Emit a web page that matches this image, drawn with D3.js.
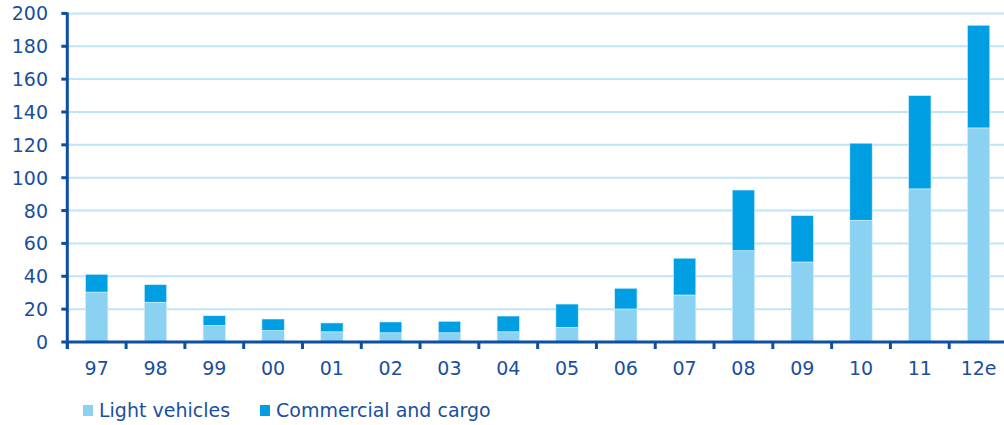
<!DOCTYPE html>
<html>
<head>
<meta charset="utf-8">
<script src="https://cdn.jsdelivr.net/npm/d3@7"></script>
<style>
  html, body { margin: 0; padding: 0; background: #fff; }
  svg { display: block; }
  text { font-family: "DejaVu Sans", Verdana, sans-serif; fill: #1a4f9e; }
</style>
</head>
<body>
<svg id="chart" width="1004" height="425"></svg>
<script>
const categories = ["97","98","99","00","01","02","03","04","05","06","07","08","09","10","11","12e"];
const lightVehicles = [30.4, 24.2, 10.1, 7.0, 6.2, 5.6, 5.6, 6.2, 8.9, 20.1, 28.6, 55.6, 48.7, 74.1, 93.2, 130.3];
const commercialCargo = [10.8, 10.7, 5.9, 7.0, 5.4, 6.6, 7.0, 9.6, 14.2, 12.6, 22.4, 36.9, 28.2, 46.9, 56.8, 62.5];
const yTicks = [0, 20, 40, 60, 80, 100, 120, 140, 160, 180, 200];
const seriesNames = ["Light vehicles", "Commercial and cargo"];
const colors = ["#8ad1f2", "#009fe3"];

const svg = d3.select("#chart");
const x0 = 67.3, x1 = 1008, yBase = 342, yTop = 13.4;
const axisColor = "#0d4fa3";

const x = d3.scaleBand().domain(categories).range([x0, x1]).paddingInner(0.62).paddingOuter(0.31);
const y = d3.scaleLinear().domain([0, 200]).range([yBase, yTop]);
const step = x.step();

// gridlines
svg.append("g").selectAll("line").data(yTicks.filter(d => d > 0)).join("line")
  .attr("x1", x0).attr("x2", 1004)
  .attr("y1", d => y(d)).attr("y2", d => y(d))
  .attr("stroke", "#bfe5f6").attr("stroke-width", 2);

// stacked bars
const rows = categories.map((c, i) => ({ cat: c, lv: lightVehicles[i], cc: commercialCargo[i] }));
const stack = d3.stack().keys(["lv", "cc"])(rows);
svg.append("g").selectAll("g").data(stack).join("g")
  .attr("fill", (d, i) => colors[i])
  .selectAll("rect").data(d => d).join("rect")
  .attr("x", d => x(d.data.cat))
  .attr("width", x.bandwidth())
  .attr("y", d => y(d[1]))
  .attr("height", d => y(d[0]) - y(d[1]))
  .attr("stroke", "#d6f0fb").attr("stroke-width", 0.6);

// y axis line + ticks
svg.append("line").attr("x1", x0).attr("x2", x0).attr("y1", yTop - 1).attr("y2", yBase + 7)
  .attr("stroke", axisColor).attr("stroke-width", 3);
svg.append("g").selectAll("line").data(yTicks).join("line")
  .attr("x1", x0 - 6).attr("x2", x0).attr("y1", d => y(d)).attr("y2", d => y(d))
  .attr("stroke", axisColor).attr("stroke-width", 3);
svg.append("g").selectAll("text").data(yTicks).join("text")
  .attr("x", 48).attr("y", d => y(d) + 7)
  .attr("text-anchor", "end").attr("font-size", 19)
  .text(d => d);

// x axis line + ticks
svg.append("line").attr("x1", x0).attr("x2", 1004).attr("y1", yBase).attr("y2", yBase)
  .attr("stroke", axisColor).attr("stroke-width", 3);
svg.append("g").selectAll("line").data(d3.range(categories.length + 1)).join("line")
  .attr("x1", i => x0 + i * step).attr("x2", i => x0 + i * step)
  .attr("y1", yBase).attr("y2", yBase + 7)
  .attr("stroke", axisColor).attr("stroke-width", 3);
svg.append("g").selectAll("text").data(categories).join("text")
  .attr("x", d => x(d) + x.bandwidth() / 2).attr("y", 375)
  .attr("text-anchor", "middle").attr("font-size", 19)
  .text(d => d);

// legend
const legX = [83, 260];
const leg = svg.append("g").selectAll("g").data(seriesNames).join("g");
leg.append("rect").attr("x", (d, i) => legX[i]).attr("y", 405).attr("width", 10).attr("height", 11)
  .attr("fill", (d, i) => colors[i]);
leg.append("text").attr("x", (d, i) => legX[i] + 16).attr("y", 417).attr("font-size", 19)
  .text(d => d);
</script>
</body>
</html>
